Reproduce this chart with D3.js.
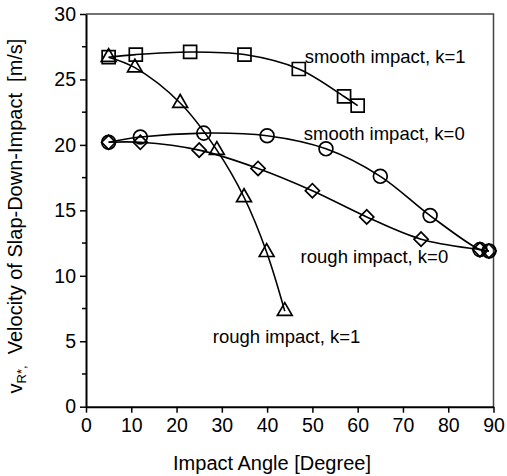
<!DOCTYPE html>
<html>
<head>
<meta charset="utf-8">
<script src="https://cdn.jsdelivr.net/npm/d3@7"></script>
<style>
  html, body { margin: 0; padding: 0; background: #fff; }
  svg { display: block; font-family: "Liberation Sans", Arial, sans-serif; }
</style>
</head>
<body>
<svg id="chart" width="507" height="476"></svg>
<script>
// impact angle [deg] vs velocity [m/s]
var smoothK1Angle = [5, 11, 23, 35, 47, 57, 60];
var smoothK1Vel   = [26.7, 26.9, 27.1, 26.9, 25.8, 23.7, 23.0];

var roughK1Angle = [5, 10.8, 20.8, 28.9, 34.9, 39.9, 43.9];
var roughK1Vel   = [26.7, 25.9, 23.2, 19.6, 16.0, 11.8, 7.3];

var smoothK0Angle = [5, 12, 26, 40, 53, 65, 76, 87, 89];
var smoothK0Vel   = [20.2, 20.6, 20.9, 20.7, 19.7, 17.6, 14.6, 12.0, 11.9];

var roughK0Angle = [5, 12, 25, 38, 50, 62, 74, 87, 89];
var roughK0Vel   = [20.2, 20.2, 19.6, 18.2, 16.5, 14.5, 12.8, 12.0, 11.9];

var xTicks = [0, 10, 20, 30, 40, 50, 60, 70, 80, 90];
var yTicks = [0, 5, 10, 15, 20, 25, 30];
var yMinorTicks = [2.5, 7.5, 12.5, 17.5, 22.5, 27.5];

var labelText  = ['smooth impact, k=1', 'smooth impact, k=0', 'rough impact, k=0', 'rough impact, k=1'];
var labelAngle = [48.3, 48.1, 47.4, 28.0];
var labelVel   = [26.25, 20.35, 10.95, 4.85];

function zip(xs, ys) { return xs.map(function (x, i) { return [x, ys[i]]; }); }

var series = [
  { pts: zip(smoothK1Angle, smoothK1Vel), marker: 'square' },
  { pts: zip(roughK1Angle, roughK1Vel), marker: 'triangle' },
  { pts: zip(smoothK0Angle, smoothK0Vel), marker: 'circle' },
  { pts: zip(roughK0Angle, roughK0Vel), marker: 'diamond' }
];

var svg = d3.select('#chart');
var plotL = 86, plotR = 493.5, plotT = 14, plotB = 406.7;

var x = d3.scaleLinear().domain([0, 90]).range([plotL, plotR]);
var y = d3.scaleLinear().domain([0, 30]).range([plotB, plotT]);

// frame (top + right)
svg.append('path')
  .attr('d', 'M' + plotL + ',' + plotT + 'H' + plotR + 'V' + plotB)
  .attr('fill', 'none').attr('stroke', '#444').attr('stroke-width', 1.5);

var xAxis = svg.append('g').attr('transform', 'translate(0,' + plotB + ')')
  .call(d3.axisBottom(x).tickValues(xTicks).tickSize(6).tickSizeOuter(0).tickPadding(4));
var yAxis = svg.append('g').attr('transform', 'translate(' + plotL + ',0)')
  .call(d3.axisLeft(y).tickValues(yTicks).tickSize(6).tickSizeOuter(0).tickPadding(4));

yAxis.selectAll('.minor').data(yMinorTicks).enter().append('line')
  .attr('class', 'minor')
  .attr('x1', -4).attr('x2', 0)
  .attr('y1', function (d) { return y(d); }).attr('y2', function (d) { return y(d); })
  .attr('stroke', '#000').attr('stroke-width', 1.5);

[xAxis, yAxis].forEach(function (g) {
  g.select('.domain').attr('stroke', '#000').attr('stroke-width', 2);
  g.selectAll('.tick line').attr('stroke', '#000').attr('stroke-width', 1.5);
  g.selectAll('.tick text').attr('fill', '#000').attr('font-size', 19.5)
    .attr('font-family', '"Liberation Sans", Arial, sans-serif');
});
xAxis.selectAll('.tick text').attr('dy', '0.78em');

// axis titles
svg.append('text')
  .attr('x', 272).attr('y', 470)
  .attr('text-anchor', 'middle').attr('font-size', 20)
  .text('Impact Angle [Degree]');

var yt = svg.append('text')
  .attr('transform', 'translate(22,216) rotate(-90)')
  .attr('text-anchor', 'middle').attr('font-size', 20)
  .style('white-space', 'pre');
yt.append('tspan').text('v');
yt.append('tspan').attr('font-size', 13).attr('dy', 4).text('R*,');
yt.append('tspan').attr('dy', -4).text('  Velocity of Slap-Down-Impact  [m/s]');

// curves
var line = d3.line()
  .x(function (d) { return x(d[0]); })
  .y(function (d) { return y(d[1]); })
  .curve(d3.curveCatmullRom.alpha(0.5));

svg.selectAll('.curve').data(series).enter().append('path')
  .attr('class', 'curve')
  .attr('d', function (s) { return line(s.pts); })
  .attr('fill', 'none').attr('stroke', '#000').attr('stroke-width', 1.6);

// markers
var shapes = {
  square:   d3.symbol().type(d3.symbolSquare).size(169)(),
  circle:   d3.symbol().type(d3.symbolCircle).size(150)(),
  triangle: d3.symbol().type(d3.symbolTriangle).size(95)(),
  diamond:  d3.symbol().type(d3.symbolSquare).size(100)()
};

series.forEach(function (s) {
  svg.append('g').selectAll('path').data(s.pts).enter().append('path')
    .attr('d', shapes[s.marker])
    .attr('transform', function (d) {
      return 'translate(' + x(d[0]) + ',' + y(d[1]) + ')' + (s.marker === 'diamond' ? ' rotate(45)' : '');
    })
    .attr('fill', 'none').attr('stroke', '#000').attr('stroke-width', 1.7);
});

// annotations
svg.selectAll('.note').data(labelText).enter().append('text')
  .attr('class', 'note')
  .attr('x', function (d, i) { return x(labelAngle[i]); })
  .attr('y', function (d, i) { return y(labelVel[i]); })
  .attr('font-size', 18.5).attr('fill', '#000')
  .text(function (d) { return d; });
</script>
</body>
</html>
